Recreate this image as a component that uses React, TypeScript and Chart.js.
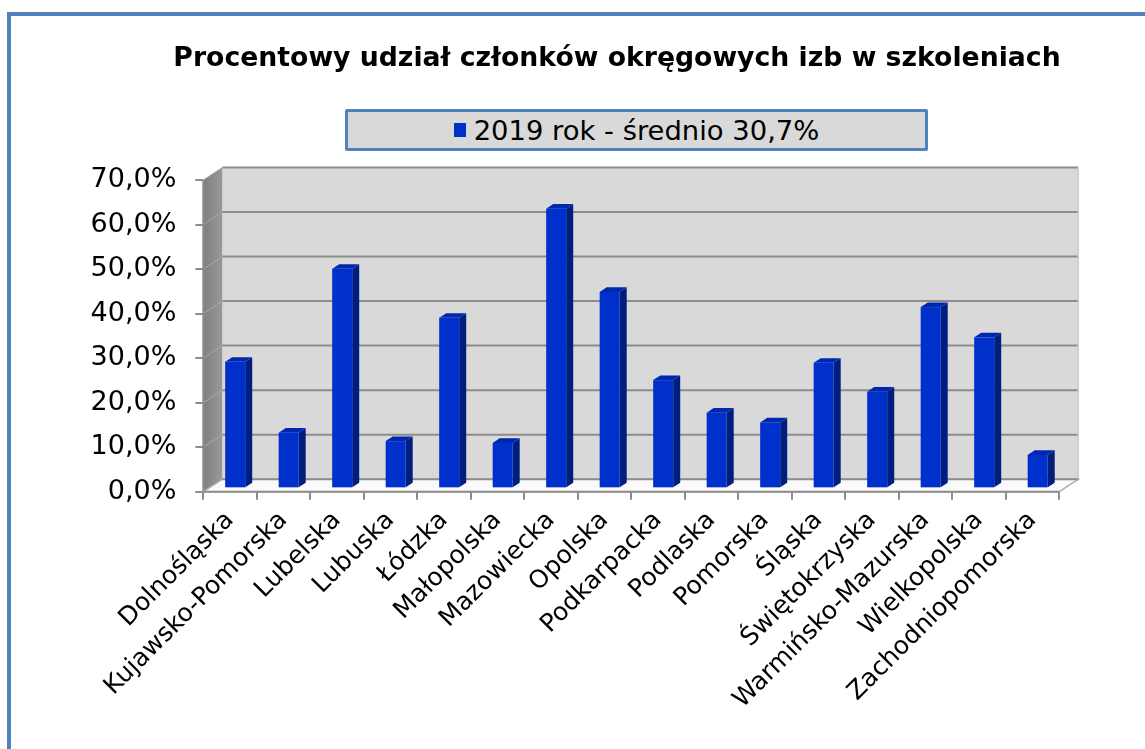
import React, { useEffect, useRef } from "react";
import { Chart, registerables } from "chart.js";

Chart.register(...registerables);

const chartTitle = "Procentowy udział członków okręgowych izb w szkoleniach";
const seriesLabel = "2019 rok - średnio 30,7%";
const categories = [
  "Dolnośląska",
  "Kujawsko-Pomorska",
  "Lubelska",
  "Lubuska",
  "Łódzka",
  "Małopolska",
  "Mazowiecka",
  "Opolska",
  "Podkarpacka",
  "Podlaska",
  "Pomorska",
  "Śląska",
  "Świętokrzyska",
  "Warmińsko-Mazurska",
  "Wielkopolska",
  "Zachodniopomorska",
];
const values2019 = [28.4, 12.5, 49.3, 10.6, 38.3, 10.2, 62.8, 44.1, 24.3, 17.0, 14.8, 28.2, 21.7, 40.7, 33.9, 7.5];
const yMin = 0;
const yMax = 70;
const yStep = 10;

const FONT = "'DejaVu Sans', Verdana, sans-serif";
const BLUE = "#0030CC";

// 3D depth vector (full depth of the plot box)
const DX = 19;
const DY = -12.5;
const BAR_FRONT = 0.27;
const BAR_BACK = 0.64;

const fmt = (v: number) => v.toFixed(1).replace(".", ",") + "%";

const wallsPlugin = {
  id: "walls3d",
  beforeDatasetsDraw(chart: any) {
    const { ctx, chartArea } = chart;
    const { left, right, top, bottom } = chartArea;
    const y = chart.scales.y;
    ctx.save();
    // back wall
    ctx.fillStyle = "#D9D9D9";
    ctx.fillRect(left + DX, top + DY, right - left, bottom - top);
    // side wall
    const g = ctx.createLinearGradient(left, 0, left + DX, 0);
    g.addColorStop(0, "#7F7F7F");
    g.addColorStop(1, "#999999");
    ctx.fillStyle = g;
    ctx.beginPath();
    ctx.moveTo(left, top);
    ctx.lineTo(left + DX, top + DY);
    ctx.lineTo(left + DX, bottom + DY);
    ctx.lineTo(left, bottom);
    ctx.closePath();
    ctx.fill();
    // floor
    ctx.fillStyle = "#FAFAFA";
    ctx.beginPath();
    ctx.moveTo(left, bottom);
    ctx.lineTo(left + DX, bottom + DY);
    ctx.lineTo(right + DX, bottom + DY);
    ctx.lineTo(right, bottom);
    ctx.closePath();
    ctx.fill();
    ctx.strokeStyle = "#B0B0B0";
    ctx.lineWidth = 1.5;
    ctx.stroke();
    // grid lines on back wall and side wall
    for (let v = yMin; v <= yMax; v += yStep) {
      const py = y.getPixelForValue(v);
      ctx.strokeStyle = "#8C8C8C";
      ctx.lineWidth = 2;
      ctx.beginPath();
      ctx.moveTo(left + DX, py + DY);
      ctx.lineTo(right + DX, py + DY);
      ctx.stroke();
      ctx.strokeStyle = "#A8A8A8";
      ctx.lineWidth = 1;
      ctx.beginPath();
      ctx.moveTo(left, py);
      ctx.lineTo(left + DX, py + DY);
      ctx.stroke();
    }
    // back wall right edge
    ctx.strokeStyle = "#CDCDCD";
    ctx.lineWidth = 1.5;
    ctx.beginPath();
    ctx.moveTo(right + DX, top + DY);
    ctx.lineTo(right + DX, bottom + DY);
    ctx.stroke();
    // front axis line
    ctx.strokeStyle = "#8C8C8C";
    ctx.lineWidth = 2;
    ctx.beginPath();
    ctx.moveTo(left, top);
    ctx.lineTo(left, bottom);
    ctx.lineTo(right, bottom);
    ctx.stroke();
    ctx.restore();
  },
  beforeDatasetDraw(chart: any, args: any) {
    const { ctx } = chart;
    const meta = chart.getDatasetMeta(args.index);
    const ox = BAR_FRONT * DX;
    const oy = BAR_FRONT * DY;
    const ddx = (BAR_BACK - BAR_FRONT) * DX;
    const ddy = (BAR_BACK - BAR_FRONT) * DY;
    ctx.save();
    meta.data.forEach((el: any) => {
      const { x, y, base, width } = el.getProps(["x", "y", "base", "width"], true);
      const l = x - width / 2 + ox;
      const r = x + width / 2 + ox;
      const t = y + oy;
      const b = base + oy;
      // side face
      ctx.fillStyle = "#001E7E";
      ctx.beginPath();
      ctx.moveTo(r, t);
      ctx.lineTo(r + ddx, t + ddy);
      ctx.lineTo(r + ddx, b + ddy);
      ctx.lineTo(r, b);
      ctx.closePath();
      ctx.fill();
      // top face
      ctx.fillStyle = "#0028AE";
      ctx.beginPath();
      ctx.moveTo(l, t);
      ctx.lineTo(l + ddx, t + ddy);
      ctx.lineTo(r + ddx, t + ddy);
      ctx.lineTo(r, t);
      ctx.closePath();
      ctx.fill();
      // front face
      ctx.fillStyle = BLUE;
      ctx.fillRect(l, t, r - l, b - t);
    });
    ctx.restore();
    return false;
  },
};

export default function App() {
  const ref = useRef<HTMLCanvasElement | null>(null);

  useEffect(() => {
    if (!ref.current) return;
    const chart = new Chart(ref.current, {
      type: "bar",
      data: {
        labels: categories,
        datasets: [
          {
            label: seriesLabel,
            data: values2019,
            backgroundColor: BLUE,
            barPercentage: 0.374,
            categoryPercentage: 1,
          },
        ],
      },
      options: {
        animation: false,
        responsive: false,
        maintainAspectRatio: false,
        layout: { padding: { top: 180, right: 85.7, left: 0, bottom: 0 } },
        plugins: {
          legend: { display: false },
          title: { display: false },
          tooltip: { enabled: false },
        },
        scales: {
          x: {
            grid: {
              display: true,
              offset: true,
              drawOnChartArea: false,
              drawTicks: true,
              tickLength: 8,
              color: "#8C8C8C",
              lineWidth: 2,
            },
            border: { display: false },
            ticks: {
              autoSkip: false,
              maxRotation: 45,
              minRotation: 45,
              padding: 6,
              color: "#000",
              font: { family: FONT, size: 25 },
            },
            afterFit: (s: any) => {
              s.height = 749 - 491.7;
            },
          },
          y: {
            min: yMin,
            max: yMax,
            grid: {
              display: true,
              drawOnChartArea: false,
              drawTicks: true,
              tickLength: 8,
              color: "#8C8C8C",
              lineWidth: 2,
            },
            border: { display: false },
            ticks: {
              stepSize: yStep,
              padding: 19,
              color: "#000",
              font: { family: FONT, size: 27 },
              callback: (v: any) => fmt(Number(v)),
            },
            afterFit: (s: any) => {
              s.width = 203.3;
            },
          },
        },
      },
      plugins: [wallsPlugin],
    });
    return () => chart.destroy();
  }, []);

  return (
    <div
      style={{
        position: "fixed",
        left: 0,
        top: 0,
        width: 1145,
        height: 749,
        overflow: "hidden",
        background: "#fff",
      }}
    >
      <canvas ref={ref} width={1145} height={749} style={{ position: "absolute", left: 0, top: 0 }} />
      <div
        style={{
          position: "absolute",
          left: 7,
          top: 12,
          width: 1300,
          height: 900,
          border: "4.5px solid #4F81BD",
          pointerEvents: "none",
        }}
      />
      <div
        style={{
          position: "absolute",
          left: 117,
          width: 1000,
          top: 42,
          textAlign: "center",
          fontFamily: FONT,
          fontWeight: "bold",
          fontSize: 26.7,
          lineHeight: "30px",
          color: "#000",
          whiteSpace: "nowrap",
        }}
      >
        {chartTitle}
      </div>
      <div
        style={{
          position: "absolute",
          left: 345,
          top: 109,
          width: 583,
          height: 42,
          boxSizing: "border-box",
          border: "3px solid #4F81BD",
          borderRadius: 2,
          background: "#D9D9D9",
          display: "flex",
          alignItems: "center",
          justifyContent: "center",
          fontFamily: FONT,
          fontSize: 27.4,
          color: "#000",
          whiteSpace: "nowrap",
        }}
      >
        <span style={{ display: "inline-block", width: 12, height: 14, background: BLUE, marginRight: 8 }} />
        <span>{seriesLabel}</span>
      </div>
    </div>
  );
}
